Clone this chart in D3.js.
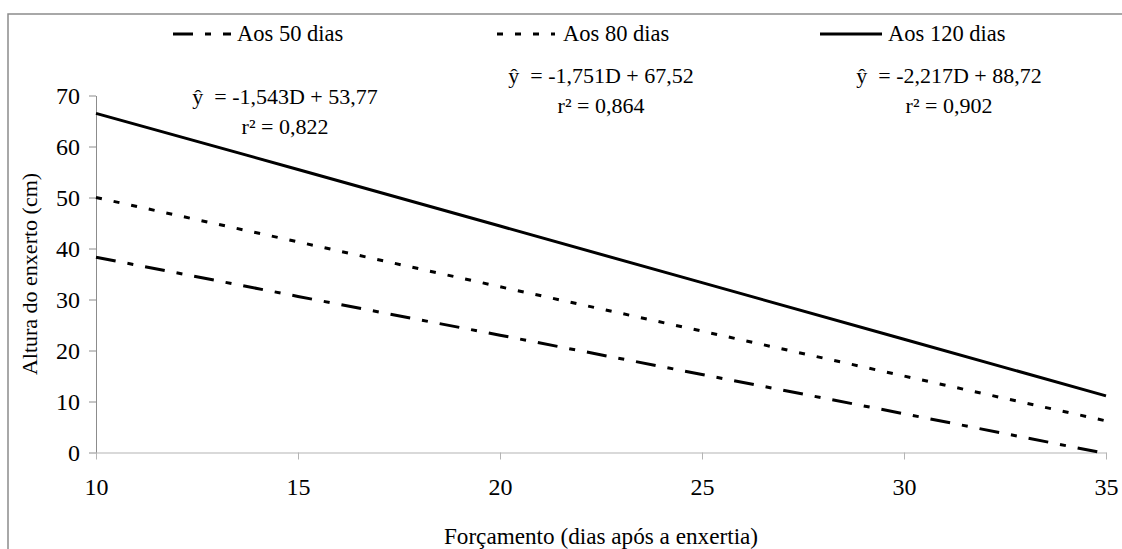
<!DOCTYPE html>
<html>
<head>
<meta charset="utf-8">
<script src="https://cdn.jsdelivr.net/npm/d3@7"></script>
<style>
  html, body { margin: 0; padding: 0; background: #fff; }
  svg { display: block; }
  text { fill: #000; }
</style>
</head>
<body>
<svg id="chart" width="1122" height="549"></svg>
<script>
// ---- data ----
const xValues = [10, 15, 20, 25, 30, 35];
const series50 = [38.3, 30.6, 23.0, 15.3, 7.6, -0.2];
const series80 = [50.0, 41.3, 32.5, 23.8, 15.0, 6.2];
const series120 = [66.5, 55.5, 44.4, 33.3, 22.2, 11.1];
const seriesNames = ["Aos 50 dias", "Aos 80 dias", "Aos 120 dias"];
const xTicks = [10, 15, 20, 25, 30, 35];
const yTicks = [0, 10, 20, 30, 40, 50, 60, 70];
const equations = ["ŷ  = -1,543D + 53,77", "ŷ  = -1,751D + 67,52", "ŷ  = -2,217D + 88,72"];
const rSquared = ["r² = 0,822", "r² = 0,864", "r² = 0,902"];

const FONT = '"Liberation Serif", "Times New Roman", serif';

const svg = d3.select("#chart");
const W = 1122, H = 549;

svg.append("path")
  .attr("d", `M8,${H} L8,14 L${W},14`)
  .attr("fill", "none").attr("stroke", "#8c8c8c").attr("stroke-width", 1.5);

const x = d3.scaleLinear().domain([10, 35]).range([96, 1106]);
const y = d3.scaleLinear().domain([0, 70]).range([452.5, 95.5]);

const yAxis = svg.append("g").attr("transform", `translate(${x(10)},0)`)
  .call(d3.axisLeft(y).tickValues(yTicks).tickSize(7).tickPadding(9).tickSizeOuter(0));
yAxis.attr("font-family", FONT).attr("font-size", "24px");
yAxis.select(".domain").attr("stroke", "#8c8c8c").attr("stroke-width", 1);
yAxis.selectAll(".tick line").attr("stroke", "#8c8c8c");

const xAxis = svg.append("g").attr("transform", `translate(0,${y(0)})`)
  .call(d3.axisBottom(x).tickValues(xTicks).tickSize(7).tickPadding(18).tickSizeOuter(0));
xAxis.attr("font-family", FONT).attr("font-size", "24px");
xAxis.select(".domain").attr("stroke", "#b4b4b4").attr("stroke-width", 1.2);
xAxis.selectAll(".tick line").attr("stroke", "#b4b4b4");

svg.append("text")
  .attr("x", (x(10) + x(35)) / 2).attr("y", 544)
  .attr("text-anchor", "middle").attr("font-family", FONT).attr("font-size", "23.2px")
  .text("Forçamento (dias após a enxertia)");
svg.append("text")
  .attr("transform", `translate(37,${(y(0) + y(70)) / 2}) rotate(-90)`)
  .attr("text-anchor", "middle").attr("font-family", FONT).attr("font-size", "22px")
  .text("Altura do enxerto (cm)");

const styles = [
  { data: series50, dash: "20,12,6,12" },
  { data: series80, dash: "6,12" },
  { data: series120, dash: null }
];
const line = d3.line().x((d, i) => x(xValues[i])).y(d => y(d));
styles.forEach(s => {
  const p = svg.append("path").datum(s.data)
    .attr("d", line)
    .attr("fill", "none").attr("stroke", "#000").attr("stroke-width", 3);
  if (s.dash) p.attr("stroke-dasharray", s.dash);
});

const legendItems = [
  { x0: 173, x1: 231, tx: 237 },
  { x0: 497, x1: 555, tx: 563 },
  { x0: 820, x1: 882, tx: 888 }
];
legendItems.forEach((L, i) => {
  const p = svg.append("line")
    .attr("x1", L.x0).attr("x2", L.x1).attr("y1", 34).attr("y2", 34)
    .attr("stroke", "#000").attr("stroke-width", 3);
  if (styles[i].dash) p.attr("stroke-dasharray", styles[i].dash);
  svg.append("text").attr("x", L.tx).attr("y", 41)
    .attr("font-family", FONT).attr("font-size", "22.5px")
    .text(seriesNames[i]);
});

const eqPos = [
  { cx: 285, y1: 104, y2: 134 },
  { cx: 601, y1: 83, y2: 113 },
  { cx: 949, y1: 83, y2: 113 }
];
eqPos.forEach((E, i) => {
  svg.append("text").attr("x", E.cx).attr("y", E.y1).attr("text-anchor", "middle")
    .attr("font-family", FONT).attr("font-size", "22px")
    .style("white-space", "pre").text(equations[i]);
  svg.append("text").attr("x", E.cx).attr("y", E.y2).attr("text-anchor", "middle")
    .attr("font-family", FONT).attr("font-size", "22px").text(rSquared[i]);
});
</script>
</body>
</html>
